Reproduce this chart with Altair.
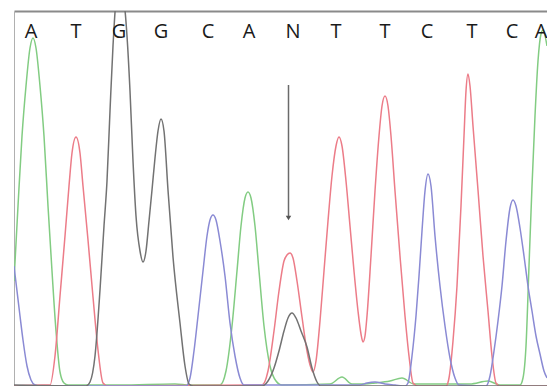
import altair as alt
import pandas as pd

# Base-call letters and their positions along the trace
bases = ["A", "T", "G", "G", "C", "A", "N", "T", "T", "C", "T", "C", "A"]
base_pos = [31, 76, 119, 161, 208, 249, 293, 336, 385, 427, 472, 512, 541]

# Green trace (A)
green_x = [14, 18, 22, 26, 30, 33, 36, 40, 44, 48, 52, 56, 60, 64, 68, 120, 175, 190, 220, 226, 232, 237, 241, 245, 248,
           251, 255, 259, 264, 270, 276, 282, 330, 342, 352, 365, 375, 390, 402, 414, 470, 488, 500, 520, 523, 526, 529,
           532, 535, 538, 541, 543, 547]
green_y = [105, 180, 250, 300, 338, 348, 338, 300, 250, 180, 115, 55, 14, 3, 1, 1, 2, 1, 1, 15, 60, 115, 160, 188, 194,
           188, 160, 115, 60, 20, 5, 1, 2, 9, 2, 2, 3, 5, 8, 2, 2, 5, 1, 1, 8, 40, 120,
           200, 270, 325, 352, 356, 340]

# Red trace (T)
red_x = [14, 44, 50, 55, 60, 65, 69, 72, 76, 80, 83, 88, 93, 98, 103, 108, 262, 268, 274, 279, 284, 287, 290, 293, 297,
         302, 307, 311, 313, 316, 320, 324, 328, 332, 336, 339, 342, 346, 350, 354, 358, 361, 363, 365, 367, 371, 375,
         379, 382, 385, 388, 391, 395, 400, 405, 409, 413, 418, 446, 449, 453, 457, 461, 464, 466, 468, 470, 473, 478,
         483, 488, 492, 496, 500, 547]
red_y = [0, 1, 1, 30, 90, 150, 200, 233, 249, 233, 200, 146, 89, 36, 3, 0, 1, 15, 55, 95, 125, 131, 133, 128, 105,
         69, 35, 18, 14, 25, 65, 115, 165, 210, 240, 249, 240, 205, 160, 115, 75, 52, 44, 50, 70, 130, 195,
         250, 280, 290, 280, 250, 195, 130, 70, 30, 3, 0, 0, 8, 45, 100, 180, 250, 295, 312, 300, 260, 196,
         130, 75, 30, 3, 0, 0]

# Blue trace (C)
blue_x = [14, 17, 20, 23, 27, 31, 35, 40, 186, 190, 194, 198, 203, 207, 210, 213, 216, 220, 225, 230, 235, 240, 244,
          360, 367, 375, 385, 395, 405, 408, 412, 416, 419, 422, 425, 428, 431, 435, 440, 445, 450, 455, 459, 486, 490,
          494, 498, 502, 506, 510, 513, 516, 520, 524, 528, 532, 536, 540, 544, 547]
blue_y = [120, 95, 70, 46, 20, 6, 1, 0, 0, 8, 35, 70, 115, 150, 166, 171, 166, 145, 110, 63, 30, 8, 1,
          1, 3, 4, 2, 1, 0, 3, 30, 70, 110, 155, 195, 212, 200, 150, 100, 60, 28, 8, 1, 0, 10,
          35, 65, 100, 145, 178, 186, 180, 158, 130, 100, 75, 50, 32, 15, 8]

# Grey trace (G)
grey_x = [14, 86, 90, 95, 100, 104, 107, 110, 113, 116, 120, 124, 127, 130, 133, 136, 140, 143, 146, 149, 152, 155,
          158, 161, 164, 168, 173, 180, 185, 189, 193, 262, 268, 274, 279, 284, 288, 292, 296, 301, 307, 312, 317, 321,
          547]
grey_y = [1, 0, 4, 30, 96, 160, 205, 275, 340, 385, 400, 385, 350, 295, 225, 170, 135, 124, 135, 165, 196, 228,
          255, 267, 255, 196, 129, 63, 20, 2, 0, 0, 5, 18, 35, 55, 68, 73, 68, 55, 39, 18, 4, 0,
          0]

traces = []
for name, xs, ys in [("A", green_x, green_y), ("T", red_x, red_y), ("C", blue_x, blue_y), ("G", grey_x, grey_y)]:
    for x, y in zip(xs, ys):
        traces.append({"base": name, "x": x, "y": y})
df = pd.DataFrame(traces)

letters = pd.DataFrame({"x": base_pos, "label": bases, "y": [354] * len(bases)})
arrow = pd.DataFrame({"x": [288.5], "y": [301], "y2": [168]})
head = pd.DataFrame({"x": [288.5], "y": [168]})

xs = alt.Scale(domain=[14, 547], nice=False, zero=False)
ys = alt.Scale(domain=[0, 375], nice=False, zero=False)

lines = alt.Chart(df).mark_line(interpolate="monotone", strokeWidth=1.5, clip=True).encode(
    x=alt.X("x:Q", scale=xs, axis=alt.Axis(orient="top", labels=False, ticks=False, grid=False, title=None,
                                           domainColor="#8a8a8a", domainWidth=2)),
    y=alt.Y("y:Q", scale=ys, axis=alt.Axis(labels=False, ticks=False, grid=False, title=None,
                                           domainColor="#b0b0b0", domainWidth=1)),
    color=alt.Color("base:N", legend=None,
                    scale=alt.Scale(domain=["A", "T", "C", "G"],
                                    range=["#82cc82", "#ec7c88", "#8a8ad4", "#727272"])),
)

text = alt.Chart(letters).mark_text(fontSize=20, font="Open Sans", color="#1a1a1a", baseline="middle").encode(
    x=alt.X("x:Q", scale=xs), y=alt.Y("y:Q", scale=ys), text="label:N")

rule = alt.Chart(arrow).mark_rule(color="#6a6a6a", strokeWidth=1.5).encode(
    x=alt.X("x:Q", scale=xs), y=alt.Y("y:Q", scale=ys), y2="y2:Q")

tip = alt.Chart(head).mark_point(shape="triangle-down", filled=True, size=30, color="#555555", opacity=1).encode(
    x=alt.X("x:Q", scale=xs), y=alt.Y("y:Q", scale=ys))

chart = alt.layer(lines, rule, tip, text).properties(
    width=533, height=375,
    autosize=alt.AutoSizeParams(type="none"),
    padding={"left": 6, "top": 3, "right": 0, "bottom": 0},
).configure_view(stroke=None)

chart.save("out.html", embed_options={"renderer": "svg", "actions": False})
